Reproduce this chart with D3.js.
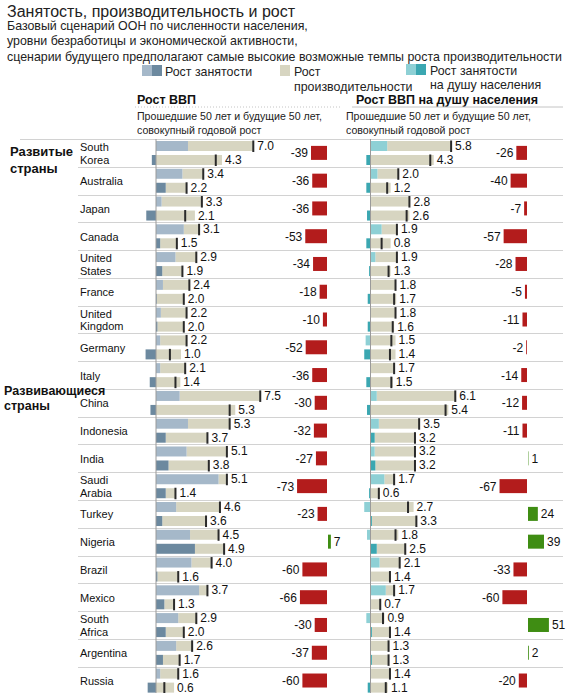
<!DOCTYPE html>
<html><head><meta charset="utf-8">
<script src="https://cdn.jsdelivr.net/npm/d3@7"></script>
<style>
html,body{margin:0;padding:0;background:#fff;}
svg{display:block;font-family:"Liberation Sans",Arial,Helvetica,sans-serif;}
</style></head>
<body><svg id="c" width="583" height="693"></svg>
<script>
// ---- data ----
const countries = ["South Korea","Australia","Japan","Canada","United States","France","United Kingdom","Germany","Italy",
  "China","Indonesia","India","Saudi Arabia","Turkey","Nigeria","Brazil","Mexico","South Africa","Argentina","Russia"];
const groupLabels = [["Развитые","страны"],["Развивающиеся","страны"]];

// GDP growth, % a year: employment part, productivity part, total
const gdpPastEmp   = [2.3,1.9,0.4,2.0,1.4,0.5,0.35,0.3,0.3, 1.7,2.3,2.2,4.5,1.45,2.45,2.55,3.1,1.6,1.45,0.3];
const gdpPastProd  = [4.7,1.5,2.9,1.1,1.5,1.9,1.85,1.9,1.8, 5.8,3.0,2.9,0.6,3.15,2.05,1.45,0.6,1.3,1.15,1.3];
const gdpPastTotal = [7.0,3.4,3.3,3.1,2.9,2.4,2.2,2.2,2.1, 7.5,5.3,5.1,5.1,4.6,4.5,4.0,3.7,2.9,2.6,1.6];
const gdpFutEmp    = [-0.3,0.7,-0.7,0.3,0.45,0.05,0.1,-0.75,-0.45, -0.4,0.7,0.9,0.7,0.45,2.8,0.1,0.6,0.7,0.5,-0.6];
const gdpFutProd   = [4.75,1.5,2.8,1.2,1.45,1.95,1.9,1.8,1.75, 5.7,3.0,2.9,0.7,3.15,2.1,1.5,0.7,1.3,1.2,1.3];
const gdpFutTotal  = [4.3,2.2,2.1,1.5,1.9,2.0,2.0,1.0,1.4, 5.3,3.7,3.8,1.4,3.6,4.9,1.6,1.3,2.0,1.7,0.6];
const gdpChange    = [-39,-36,-36,-53,-34,-18,-10,-52,-36, -30,-32,-27,-73,-23,7,-60,-66,-30,-37,-60];

// GDP per capita growth
const pcPastEmp    = [1.2,0.5,0,0.8,0.35,0,0,-0.35,0, 0.45,0.6,0.3,1.0,-0.45,-0.25,0.65,1.1,-0.3,0,0];
const pcPastProd   = [4.6,1.5,2.8,1.1,1.55,1.8,1.8,1.8,1.7, 5.65,2.9,2.9,0.7,3.1,2.0,1.45,0.6,1.0,1.3,1.4];
const pcPastTotal  = [5.8,2.0,2.8,1.9,1.9,1.8,1.8,1.5,1.7, 6.1,3.5,3.2,1.7,2.7,1.8,2.1,1.7,0.9,1.3,1.4];
const pcFutEmp     = [-0.3,-0.3,-0.25,-0.3,-0.1,-0.2,-0.2,-0.45,-0.3, -0.25,0.3,0.35,-0.1,0.1,0.45,0,0,0.1,0.1,-0.2];
const pcFutProd    = [4.55,1.45,2.8,1.45,1.45,1.85,1.7,1.8,1.6, 5.6,2.9,2.85,0.65,3.2,2.05,1.4,0.7,1.3,1.2,1.25];
const pcFutTotal   = [4.3,1.2,2.6,0.8,1.3,1.7,1.6,1.4,1.5, 5.4,3.2,3.2,0.6,3.3,2.5,1.4,0.7,1.4,1.3,1.1];
const pcChange     = [-26,-40,-7,-57,-28,-5,-11,-2,-14, -12,-11,1,-67,24,39,-33,-60,51,2,-20];

const title = "Занятость, производительность и рост";
const subtitle = ["Базовый сценарий ООН по численности населения,",
  "уровни безработицы и экономической активности,",
  "сценарии будущего предполагают самые высокие возможные темпы роста производительности"];
const panelTitles = ["Рост ВВП","Рост ВВП на душу населения"];
const panelSub = ["Прошедшие 50 лет и будущие 50 лет,","совокупный годовой рост"];
const legendEmp = "Рост занятости";
const legendProd = ["Рост","производительности"];
const legendPc = ["Рост занятости","на душу населения"];

// ---- styles ----
const C = {
  empPast:"#a5b8c9", empFut:"#6c899f",
  pcPast:"#8ed0d5", pcFut:"#3ba7b1",
  prod:"#d7d5c1", tick:"#2a2a2a",
  neg:"#b31c1c", pos:"#3f8d13", grid:"#d2d2d2", axis:"#9a9a9a"
};

const svg = d3.select("#c");
svg.append("rect").attr("width",583).attr("height",693).attr("fill","#fff");

// ---- header ----
svg.append("text").attr("x",7).attr("y",17).attr("font-size",16).attr("fill","#222").text(title);
subtitle.forEach((s,i)=>svg.append("text").attr("x",7).attr("y",29.5+i*15.7).attr("font-size",12.4).attr("fill","#222").text(s));

// legend
const lg = svg.append("g").attr("font-size",12.4).attr("fill","#222");
lg.append("rect").attr("x",142).attr("y",65).attr("width",10).attr("height",11).attr("fill",C.empPast);
lg.append("rect").attr("x",152).attr("y",65).attr("width",10).attr("height",11).attr("fill",C.empFut);
lg.append("text").attr("x",165).attr("y",75.5).text(legendEmp);
lg.append("rect").attr("x",280).attr("y",65).attr("width",10).attr("height",11).attr("fill",C.prod);
legendProd.forEach((s,i)=>lg.append("text").attr("x",294).attr("y",75.5+i*15).text(s));
lg.append("rect").attr("x",406).attr("y",64).attr("width",10).attr("height",11).attr("fill",C.pcPast);
lg.append("rect").attr("x",416).attr("y",64).attr("width",10).attr("height",11).attr("fill",C.pcFut);
legendPc.forEach((s,i)=>lg.append("text").attr("x",430).attr("y",74.5+i*14.5).text(s));

// ---- scales ----
const rowTop = 139, rowH = 27.77;
const y = d3.scaleBand().domain(countries).range([rowTop, rowTop + rowH*countries.length]);
const yIn = d3.scaleBand().domain(["past","future"]).range([2,26]).paddingInner(0.2857);
const unit = 13.9;
const xL = d3.scaleLinear().domain([0,8]).range([156,156+8*unit]);
const xR = d3.scaleLinear().domain([0,8]).range([370.5,370.5+8*unit]);
const pctW = d3.scaleLinear().domain([0,100]).range([0,41]);
const anchorL = 327, anchorR = 527;

// panel headers
[137,356].forEach((x0,k)=>{
  svg.append("text").attr("x",x0).attr("y",104).attr("font-size",12.5).attr("font-weight","bold").attr("fill","#111").text(panelTitles[k]);
});
svg.append("line").attr("x1",135).attr("x2",342).attr("y1",107).attr("y2",107).attr("stroke","#c4c4c4").attr("stroke-dasharray","1,2");
svg.append("line").attr("x1",352).attr("x2",563).attr("y1",107).attr("y2",107).attr("stroke","#c4c4c4");
[137,346].forEach(x0=>panelSub.forEach((s,i)=>svg.append("text").attr("x",x0).attr("y",120+i*14).attr("font-size",10.6).attr("fill","#222").text(s)));

// grid lines
svg.append("line").attr("x1",20).attr("x2",563).attr("y1",rowTop+0.5).attr("y2",rowTop+0.5).attr("stroke",C.grid);
countries.forEach((c,i)=>{
  if(i===0) return;
  const yy = Math.round(y(c))+0.5;
  svg.append("line").attr("x1",78).attr("x2",563).attr("y1",yy).attr("y2",yy).attr("stroke",C.grid);
});

// group labels
const glY = [[156,173],[394.5,410]];
const glS = [13,12.5];
groupLabels.forEach((g,k)=>g.forEach((s,i)=>svg.append("text").attr("x",k===0?10:4).attr("y",glY[k][i])
  .attr("font-size",glS[k]).attr("font-weight","bold").attr("fill","#111").text(s)));

// country labels
countries.forEach((c,i)=>{
  const parts = c.split(" ");
  const cy = y(c)+y.bandwidth()/2;
  parts.forEach((p,j)=>svg.append("text").attr("x",80).attr("y",cy+4.5 + (j-(parts.length-1)/2)*12.5)
    .attr("font-size",11).attr("fill","#111").text(p));
});

const fmt = d3.format(".1f");
function panel(x, empP, prodP, totP, empF, prodF, totF, colPast, colFut, change, anchor){
  const g = svg.append("g");
  const rows = countries.map((c,i)=>({c,i}));
  const series = [
    {key:"past", emp:empP, prod:prodP, tot:totP, col:colPast},
    {key:"future", emp:empF, prod:prodF, tot:totF, col:colFut}
  ];
  series.forEach(s=>{
    rows.forEach(({c,i})=>{
      const yy = y(c)+yIn(s.key), h = yIn.bandwidth();
      const e = s.emp[i], p = s.prod[i], t = s.tot[i];
      const pStart = Math.max(e,0), pEnd = pStart + p;
      g.append("rect").attr("x",x(pStart)).attr("y",yy).attr("width",x(pEnd)-x(pStart)).attr("height",h).attr("fill",C.prod);
      if(e!==0) g.append("rect").attr("x",x(Math.min(e,0))).attr("y",yy).attr("width",Math.abs(x(e)-x(0))).attr("height",h).attr("fill",s.col);
      g.append("rect").attr("x",x(t)-1).attr("y",yy-0.5).attr("width",2).attr("height",h+1.5).attr("fill",C.tick);
      const lx = Math.max(x(t)+1, x(pEnd)) + 3;
      g.append("text").attr("x",lx).attr("y",yy+h/2+4).attr("font-size",12).attr("fill","#111").text(fmt(t));
    });
  });
  g.append("line").attr("x1",x(0)).attr("x2",x(0)).attr("y1",rowTop).attr("y2",693).attr("stroke",C.axis);
  rows.forEach(({c,i})=>{
    const v = change[i], w = pctW(Math.abs(v));
    const cy = y(c)+y.bandwidth()/2;
    g.append("rect").attr("x", v<0 ? anchor-w : anchor+1).attr("y",cy-7).attr("width",w).attr("height",14)
      .attr("fill", v<0 ? C.neg : C.pos);
    g.append("text").attr("x", v<0 ? anchor-w-3 : anchor+1+w+3).attr("y",cy+4.5)
      .attr("text-anchor", v<0 ? "end":"start").attr("font-size",12).attr("fill","#111").text(v);
  });
}
panel(xL, gdpPastEmp,gdpPastProd,gdpPastTotal, gdpFutEmp,gdpFutProd,gdpFutTotal, C.empPast,C.empFut, gdpChange, anchorL);
panel(xR, pcPastEmp,pcPastProd,pcPastTotal, pcFutEmp,pcFutProd,pcFutTotal, C.pcPast,C.pcFut, pcChange, anchorR);
</script></body></html>
